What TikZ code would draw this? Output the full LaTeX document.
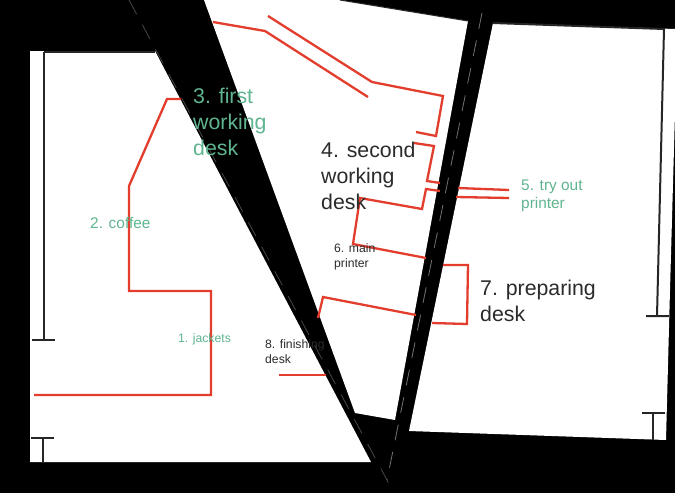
\documentclass[tikz,border=0pt]{standalone}
\usepackage{fontspec}
\setmainfont{Liberation Sans}
\definecolor{routered}{HTML}{E23D2D}
\definecolor{deskgreen}{HTML}{5FB58F}
\definecolor{deskdark}{HTML}{2B2B2B}
\tikzset{
  route/.style={draw=routered, line width=2.3pt, line join=miter},
  wall/.style={draw=black!85, line width=2pt},
  seam/.style={draw=black!72, line width=0.8pt, dash pattern=on 16pt off 12pt},
  room/.style={fill=white},
  label/.style={inner sep=0pt, anchor=north west, align=left},
  big/.style={label, font=\fontsize{21.3}{25.8}\selectfont},
  mid/.style={label, font=\fontsize{15.4}{18}\selectfont},
  small/.style={label, font=\fontsize{12.2}{15.8}\selectfont}
}
\begin{document}
\begin{tikzpicture}[x=1pt, y=-1pt]
\useasboundingbox (0,0) rectangle (675,493);
\fill[black] (0,0) rectangle (675,493);
\fill[room] (30,51) -- (155,51) -- (371,462) -- (30,462) -- cycle;
\fill[room] (204,0) -- (340,0) -- (468,21) -- (395,420) -- (355,413) -- cycle;
\fill[room] (493,23) -- (675,29) -- (675,113) -- (670,290) -- (666,440) -- (409,431) -- cycle;
\draw[wall] (44,52) -- (155,52);
\draw[wall] (44,52) -- (44,340) (32,340) -- (55,340);
\draw[wall] (31,438) -- (54,438) (43,438) -- (43,463);
\draw[wall, line width=1pt] (43,462) -- (371,462);
\draw[wall, line width=1pt] (340,0) -- (468,21);
\draw[wall] (493,23) -- (664,29) -- (657,316) (646,316) -- (669,316);
\draw[wall] (642,413) -- (665,413) (653,413) -- (653,440);
\draw[route] (34,395) -- (211,395) -- (211,291) -- (129,291) -- (129,186) -- (167,99) -- (181,99);
\draw[route] (213,22) -- (265,31) -- (368,97);
\draw[route] (268,16) -- (372,82) -- (443,96) -- (436,136) -- (416,132);
\draw[route] (414,143) -- (434,146) -- (427,181) -- (440,183);
\draw[route] (440,191) -- (426,189) -- (422,209) -- (360,198) -- (353,244) -- (426,258);
\draw[route] (458,188) -- (509,190);
\draw[route] (456,197) -- (509,198);
\draw[route] (443,265) -- (468,265) -- (467,324) -- (432,323);
\draw[route] (416,315) -- (323,297) -- (318,318);
\draw[route] (279,375) -- (326,375);
\draw[seam] (129,0) -- (387,480) -- (393,493);
\draw[seam, draw=black!55] (482,13) -- (387,480);
\node[small, text=deskgreen] (jackets) at (178,333) {1. jackets};
\node[mid, text=deskgreen] (coffee) at (90,217) {2. coffee};
\node[big, text=deskgreen] (firstdesk) at (193,88) {3. first\\working\\desk};
\node[big, text=deskdark] (seconddesk) at (321,142) {4. second\\working\\desk};
\node[mid, text=deskgreen] (tryout) at (521,180) {5. try out\\printer};
\node[small, text=deskdark] (mainprinter) at (334,243) {6. main\\printer};
\node[big, text=deskdark] (preparing) at (480,280) {7. preparing\\desk};
\node[small, text=deskdark] (finishing) at (265,339) {8. finishing\\desk};
\end{tikzpicture}
\end{document}
